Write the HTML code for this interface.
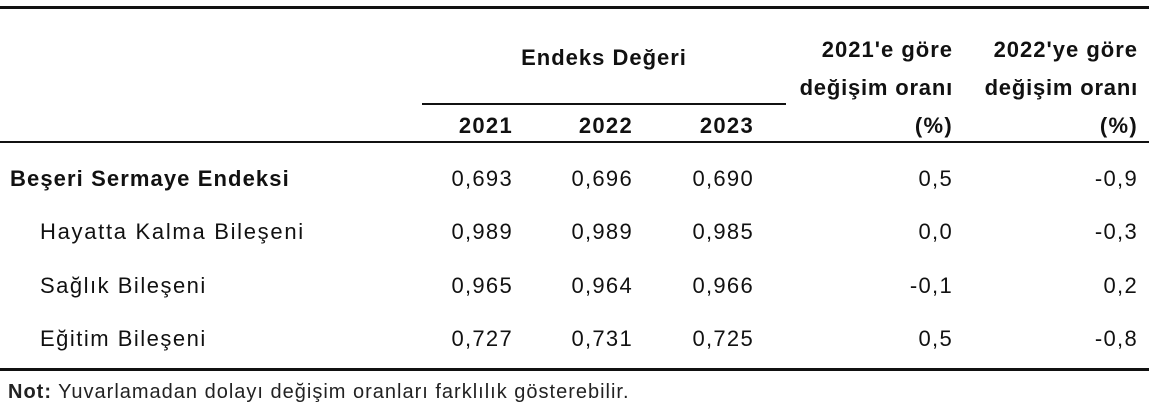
<!DOCTYPE html>
<html><head><meta charset="utf-8"><style>
body{margin:0;width:1149px;height:411px;background:#fff;position:relative;overflow:hidden;font-family:"Liberation Sans",sans-serif;color:#111}
.l{position:absolute;background:#111}
.t{position:absolute;font-size:22px;line-height:24px;white-space:nowrap;letter-spacing:1.3px}
.r{text-align:right}
.b{font-weight:bold}
</style></head><body>
<div class="l" style="left:0;top:6px;width:1149px;height:3px"></div>
<div class="l" style="left:422px;top:103px;width:364px;height:2px"></div>
<div class="l" style="left:0;top:141px;width:1149px;height:2px"></div>
<div class="l" style="left:0;top:368px;width:1149px;height:3px"></div>

<div class="t b" style="left:494px;top:46px;width:220px;text-align:center;letter-spacing:1px">Endeks Değeri</div>
<div class="t b r" style="right:196px;top:38px;letter-spacing:1px">2021'e göre</div>
<div class="t b r" style="right:196px;top:76px;letter-spacing:0.8px">değişim oranı</div>
<div class="t b r" style="right:196px;top:114px">(%)</div>
<div class="t b r" style="right:11px;top:38px;letter-spacing:1px">2022'ye göre</div>
<div class="t b r" style="right:11px;top:76px;letter-spacing:0.8px">değişim oranı</div>
<div class="t b r" style="right:11px;top:114px">(%)</div>
<div class="t b r" style="right:636px;top:114px">2021</div>
<div class="t b r" style="right:516px;top:114px">2022</div>
<div class="t b r" style="right:395px;top:114px">2023</div>

<div class="t b" style="left:10px;top:167px;letter-spacing:1.1px">Beşeri Sermaye Endeksi</div>
<div class="t" style="left:40px;top:220px;letter-spacing:1.7px">Hayatta Kalma Bileşeni</div>
<div class="t" style="left:40px;top:274px;letter-spacing:1.5px">Sağlık Bileşeni</div>
<div class="t" style="left:40px;top:327px;letter-spacing:1.5px">Eğitim Bileşeni</div>

<div class="t r" style="right:636px;top:167px">0,693</div><div class="t r" style="right:516px;top:167px">0,696</div><div class="t r" style="right:395px;top:167px">0,690</div><div class="t r" style="right:196px;top:167px">0,5</div><div class="t r" style="right:11px;top:167px">-0,9</div>
<div class="t r" style="right:636px;top:220px">0,989</div><div class="t r" style="right:516px;top:220px">0,989</div><div class="t r" style="right:395px;top:220px">0,985</div><div class="t r" style="right:196px;top:220px">0,0</div><div class="t r" style="right:11px;top:220px">-0,3</div>
<div class="t r" style="right:636px;top:274px">0,965</div><div class="t r" style="right:516px;top:274px">0,964</div><div class="t r" style="right:395px;top:274px">0,966</div><div class="t r" style="right:196px;top:274px">-0,1</div><div class="t r" style="right:11px;top:274px">0,2</div>
<div class="t r" style="right:636px;top:327px">0,727</div><div class="t r" style="right:516px;top:327px">0,731</div><div class="t r" style="right:395px;top:327px">0,725</div><div class="t r" style="right:196px;top:327px">0,5</div><div class="t r" style="right:11px;top:327px">-0,8</div>

<div class="t" style="left:8px;top:380px;font-size:20px;letter-spacing:1px;color:#222"><b>Not:</b> Yuvarlamadan dolayı değişim oranları farklılık gösterebilir.</div>
</body></html>
